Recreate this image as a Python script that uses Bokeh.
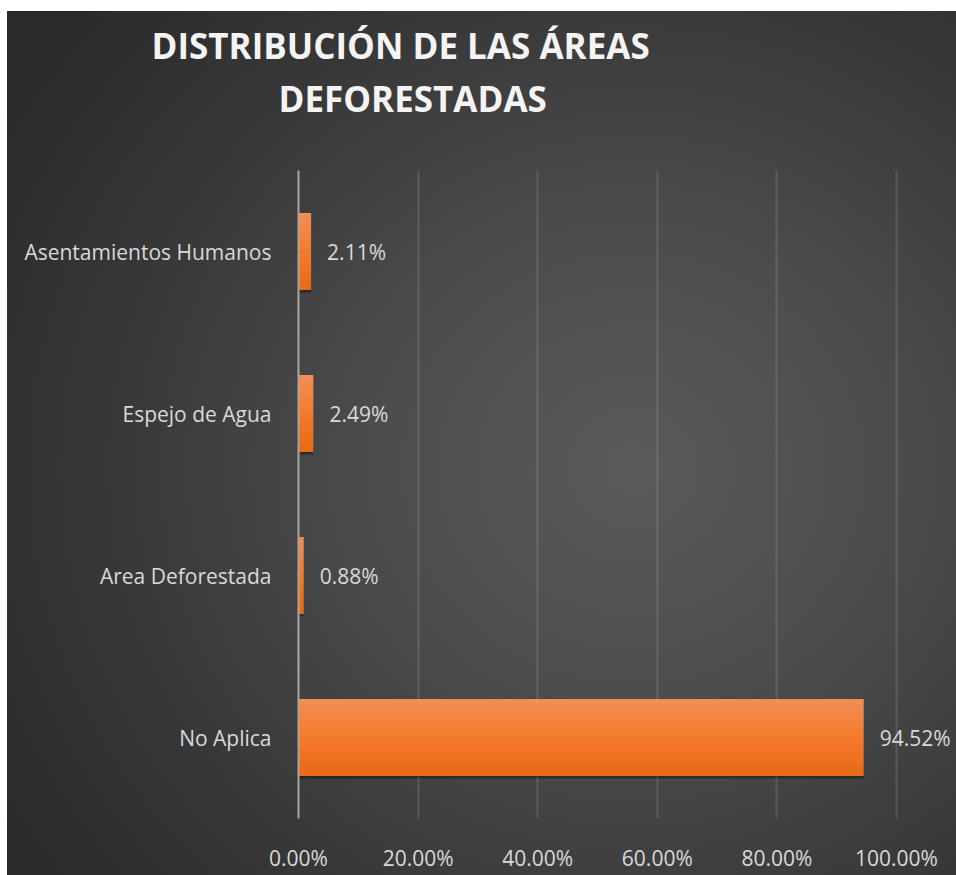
from bokeh.plotting import figure
from bokeh.models import (ColumnDataSource, FactorRange, Range1d, FixedTicker,
                          NumeralTickFormatter, LabelSet, Title)
from bokeh.core.properties import value
from bokeh.transform import dodge
from bokeh.embed import file_html
from bokeh.resources import INLINE

# ---- data ----
categories = ["No Aplica", "Area Deforestada", "Espejo de Agua", "Asentamientos Humanos"]
values = [0.9452, 0.0088, 0.0249, 0.0211]
x_ticks = [0.0, 0.2, 0.4, 0.6, 0.8, 1.0]
title_lines = ["DISTRIBUCIÓN DE LAS ÁREAS", "DEFORESTADAS"]

labels = ["{:.2f}%".format(v * 100) for v in values]
source = ColumnDataSource(dict(cat=categories, val=values, label=labels))

FONT = "Open Sans"
TXT = "#d9d9d9"

p = figure(width=949, height=864, output_backend="svg", toolbar_location=None,
           y_range=FactorRange(factors=categories, range_padding=0),
           x_range=Range1d(0, 658 / 598),
           min_border_left=291, min_border_right=0, min_border_top=159,
           min_border_bottom=57)
p.styles = {
    "margin-left": "7px",
    "margin-top": "11px",
    "background-image": "radial-gradient(ellipse 78% 80% at 66% 53%, #5a5a5a 0%, #4c4c4c 35%, #383838 70%, #2a2a2a 100%)",
}
p.border_fill_color = None
p.background_fill_color = None
p.outline_line_color = None

# title: two lines, nearest line added first
p.add_layout(Title(text=title_lines[1], align="left", offset=-20, standoff=98,
                   text_font=FONT, text_font_style="bold", text_font_size="35px",
                   text_color="#f4f4f4"), "above")
p.add_layout(Title(text=title_lines[0], align="left", offset=-147, standoff=-90,
                   text_font=FONT, text_font_style="bold", text_font_size="35px",
                   text_color="#f4f4f4"), "above")

BAR_H = 0.47
# bar shadow
p.hbar(y=dodge("cat", -0.018, range=p.y_range), left=0, right="val", height=BAR_H,
       source=source, fill_color="#000000", fill_alpha=0.35, line_color=None)

def mix(c1, c2, f):
    a = [int(c1[i:i + 2], 16) for i in (1, 3, 5)]
    b = [int(c2[i:i + 2], 16) for i in (1, 3, 5)]
    return "#%02x%02x%02x" % tuple(round(a[k] + (b[k] - a[k]) * f) for k in range(3))

top_c, mid_c, bot_c = "#f28e57", "#f47b2b", "#e86916"
NB = 16
bh = BAR_H / NB
for i in range(NB):
    f = (i + 0.5) / NB
    col = mix(top_c, mid_c, f * 2) if f < 0.5 else mix(mid_c, bot_c, (f - 0.5) * 2)
    off = BAR_H / 2 - bh * (i + 0.5)
    p.hbar(y=dodge("cat", off, range=p.y_range), left=0, right="val", height=bh * 1.15,
           source=source, fill_color=col, line_color=None)

# data labels
p.add_layout(LabelSet(x="val", y="cat", text="label", source=source, x_offset=16,
                      text_baseline="middle", text_align="left", text_color=TXT,
                      text_font=value(FONT), text_font_size="21px"))

# axes
p.xaxis.ticker = FixedTicker(ticks=x_ticks)
p.xaxis.formatter = NumeralTickFormatter(format="0.00%")
p.xaxis.axis_line_color = None
p.xaxis.major_tick_line_color = None
p.xaxis.minor_tick_line_color = None
p.xaxis.major_label_text_color = TXT
p.xaxis.major_label_text_font = FONT
p.xaxis.major_label_text_font_size = "21px"
p.xaxis.major_label_standoff = 19

p.yaxis.axis_line_color = "#a6a6a6"
p.yaxis.axis_line_width = 2
p.yaxis.major_tick_line_color = None
p.yaxis.minor_tick_line_color = None
p.yaxis.major_label_text_color = TXT
p.yaxis.major_label_text_font = FONT
p.yaxis.major_label_text_font_size = "21px"
p.yaxis.major_label_standoff = 21

p.xgrid.ticker = FixedTicker(ticks=x_ticks)
p.xgrid.grid_line_color = "#ffffff"
p.xgrid.grid_line_alpha = 0.13
p.xgrid.grid_line_width = 2
p.ygrid.grid_line_color = None

open("out.html", "w").write(file_html(p, INLINE))
